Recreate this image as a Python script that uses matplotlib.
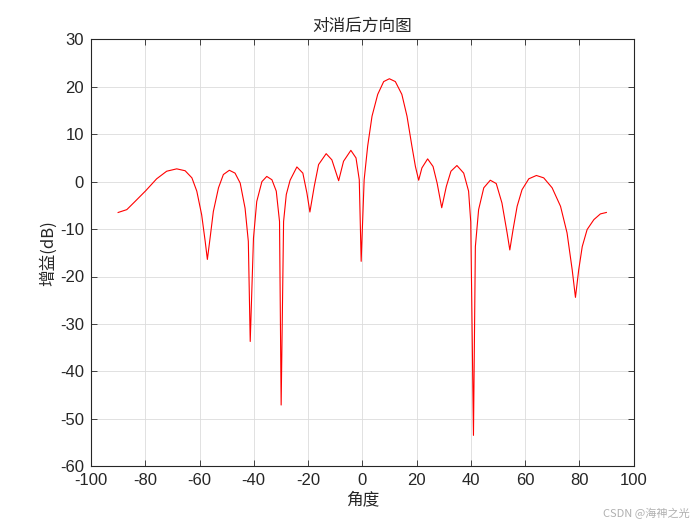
# 対消後方向図の再現
import matplotlib
matplotlib.use("Agg")
import matplotlib.pyplot as plt

# 角度 [deg]
angles = [-90, -86.8, -83.8, -79.8, -75.8, -72.1, -68.4, -65.3, -62.8, -61.0,
          -59.2, -57.9, -57.1, -56.1, -54.9, -53.0, -51.2, -49.0, -46.9, -45.0,
          -43.2, -42.0, -41.3, -40.1, -38.9, -37.0, -35.2, -33.3, -31.7, -30.5,
          -29.9, -29.0, -28.0, -26.6, -24.1, -21.9, -20.4, -19.3, -17.7, -16.1,
          -13.3, -11.2, -8.7, -6.9, -4.2, -2.3, -1.1, -0.4, 0.7, 2.0,
          3.6, 5.7, 7.9, 10.0, 12.2, 14.6, 16.5, 18.3, 19.6, 20.8,
          22.0, 24.1, 26.1, 27.6, 29.3, 31.0, 32.7, 34.9, 37.4, 39.2,
          40.0, 41.0, 41.7, 42.9, 44.8, 47.2, 49.4, 51.5, 53.4, 54.4,
          55.6, 57.1, 58.9, 61.4, 64.2, 66.9, 70.0, 73.1, 75.5, 77.4,
          78.6, 79.8, 81.1, 82.9, 85.4, 87.8, 90]
# 増益 [dB]
gains = [-6.5, -5.9, -4.2, -1.9, 0.6, 2.2, 2.7, 2.3, 0.8, -2.0,
         -7.0, -12.6, -16.4, -11.9, -6.3, -1.3, 1.5, 2.4, 1.8, -0.3,
         -5.6, -12.6, -33.7, -11.9, -4.2, 0.0, 1.1, 0.4, -2.0, -8.4,
         -47.1, -8.4, -2.7, 0.3, 3.1, 1.8, -2.4, -6.4, -1.0, 3.6,
         5.9, 4.6, 0.2, 4.3, 6.6, 5.0, 0.4, -16.8, 0.4, 7.5,
         13.8, 18.4, 21.1, 21.7, 21.1, 18.4, 13.8, 7.5, 3.2, 0.3,
         2.9, 4.8, 3.2, -0.3, -5.5, -1.0, 2.2, 3.4, 1.8, -2.0,
         -8.5, -53.5, -13.7, -5.9, -1.3, 0.3, -0.4, -4.5, -10.8, -14.4,
         -10.1, -5.2, -1.7, 0.6, 1.3, 0.8, -1.3, -5.2, -10.8, -18.6,
         -24.4, -18.6, -13.7, -10.1, -8.0, -6.8, -6.5]

x_ticks = list(range(-100, 101, 20))
y_ticks = list(range(-60, 31, 10))

FONT_CJK = ["Noto Sans CJK SC", "DejaVu Sans"]
FONT_NUM = "Liberation Sans"
plt.rcParams["axes.unicode_minus"] = False


def main():
    fig = plt.figure(figsize=(7, 5.25), dpi=100)
    ax = fig.add_axes([0.13, 0.112, 0.775, 0.813])

    ax.plot(angles, gains, color="red", linewidth=0.8)

    ax.set_xlim(-100, 100)
    ax.set_ylim(-60, 30)
    ax.set_xticks(x_ticks)
    ax.set_yticks(y_ticks)
    for lab in ax.get_xticklabels() + ax.get_yticklabels():
        lab.set_fontfamily(FONT_NUM)
        lab.set_fontsize(12)
    ax.tick_params(direction="in", length=4, width=0.6, color="#262626",
                   top=True, right=True, labelcolor="#262626", pad=5)
    ax.grid(True, color="#dcdcdc", linewidth=0.6)
    for sp in ax.spines.values():
        sp.set_color("#262626")
        sp.set_linewidth(0.8)

    ax.set_title("对消后方向图", family=FONT_CJK, fontsize=12, color="#262626", pad=6)
    ax.set_xlabel("角度", family=FONT_CJK, fontsize=12, color="#262626", labelpad=2)
    ax.set_ylabel("增益(dB)", family=FONT_CJK, fontsize=12, color="#262626", labelpad=2)

    # 透かし
    fig.text(0.985, 0.012, "CSDN @海神之光", family=FONT_CJK, fontsize=8,
             color="#b0b0b0", ha="right", va="bottom")

    fig.savefig("out.png", dpi=100, facecolor="white")


if __name__ == "__main__":
    main()
